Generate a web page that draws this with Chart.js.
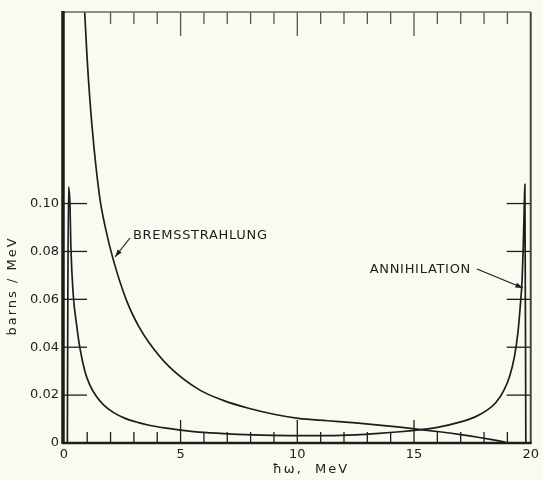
<!DOCTYPE html>
<html>
<head>
<meta charset="utf-8">
<script src="https://cdn.jsdelivr.net/npm/chart.js@4/dist/chart.umd.min.js"></script>
<style>
  html, body { margin: 0; padding: 0; background: #fafaf1; }
  #wrap { width: 543px; height: 480px; }
</style>
</head>
<body>
<div id="wrap"><canvas id="c" width="543" height="480"></canvas></div>
<script>
// Photon energy (MeV) and cross section (barns/MeV) for each process
const annihilationEnergy = [0.15, 0.17, 0.20, 0.26, 0.30, 0.40, 0.55, 0.68, 0.90, 1.10, 1.39, 1.70, 2.10, 2.60, 3.20, 3.70, 4.30, 5.00, 6.00, 7.20, 8.50, 10.0, 11.3, 12.5, 13.5, 14.4, 15.2, 16.0, 17.0, 17.6, 18.1, 18.5, 18.85, 19.1, 19.3, 19.45, 19.55, 19.63, 19.68, 19.72, 19.75, 19.79];
const annihilationValue  = [0.0, 0.060, 0.107, 0.100, 0.082, 0.062, 0.049, 0.040, 0.030, 0.0245, 0.0195, 0.0159, 0.0129, 0.0104, 0.0085, 0.0073, 0.0063, 0.0054, 0.0044, 0.0037, 0.0033, 0.0031, 0.0031, 0.0034, 0.0040, 0.0047, 0.0055, 0.0065, 0.0088, 0.0108, 0.0135, 0.0168, 0.0220, 0.028, 0.036, 0.046, 0.057, 0.068, 0.082, 0.098, 0.108, 0.0];

const bremsEnergy = [0.86, 1.00, 1.20, 1.53, 1.80, 2.10, 2.67, 3.20, 3.66, 4.51, 5.79, 6.80, 7.91, 9.00, 10.04, 11.3, 12.5, 13.5, 14.4, 15.2, 16.0, 17.0, 17.8, 18.4, 18.8, 19.0];
const bremsValue  = [0.186, 0.160, 0.133, 0.103, 0.089, 0.0771, 0.0599, 0.0488, 0.0418, 0.0319, 0.0223, 0.0179, 0.0145, 0.0120, 0.0103, 0.0093, 0.0084, 0.0075, 0.0066, 0.0057, 0.0048, 0.0035, 0.0023, 0.0013, 0.0006, 0.0];

// Axis ticks
const xTickValues = [0, 1, 2, 3, 4, 5, 6, 7, 8, 9, 10, 11, 12, 13, 14, 15, 16, 17, 18, 19, 20];
const yTickValues = [0, 0.02, 0.04, 0.06, 0.08, 0.10];
const topTickValues = [2, 3, 4, 5, 6, 7, 8, 9, 10, 11, 12, 13, 14, 15, 16, 17, 18, 19];

const INK = '#1d1d1d';
const FONT = '"DejaVu Sans", sans-serif';

function pts(xs, ys) { return xs.map((x, i) => ({ x: x, y: ys[i] })); }

function arrow(ctx, x0, y0, x1, y1) {
  ctx.beginPath();
  ctx.moveTo(x0, y0);
  ctx.lineTo(x1, y1);
  ctx.stroke();
  const a = Math.atan2(y1 - y0, x1 - x0);
  const L = 8, W = 0.32;
  ctx.beginPath();
  ctx.moveTo(x1, y1);
  ctx.lineTo(x1 - L * Math.cos(a - W), y1 - L * Math.sin(a - W));
  ctx.lineTo(x1 - L * Math.cos(a + W), y1 - L * Math.sin(a + W));
  ctx.closePath();
  ctx.fill();
}

const decorations = {
  id: 'decorations',
  beforeDraw(chart) {
    const ctx = chart.ctx;
    ctx.save();
    ctx.fillStyle = '#fafaf1';
    ctx.fillRect(0, 0, chart.width, chart.height);
    ctx.restore();
  },
  afterDatasetsDraw(chart) {
    const ctx = chart.ctx;
    const xs = chart.scales.x, ys = chart.scales.y;
    const a = chart.chartArea;
    ctx.save();
    ctx.strokeStyle = INK;
    ctx.fillStyle = INK;
    ctx.lineCap = 'butt';

    // inward tick marks along the bottom edge
    ctx.lineWidth = 1.3;
    xTickValues.forEach(v => {
      if (v <= 0 || v >= 20) return;
      const px = xs.getPixelForValue(v);
      const len = v % 5 === 0 ? 23 : 11;
      ctx.beginPath(); ctx.moveTo(px, a.bottom); ctx.lineTo(px, a.bottom - len); ctx.stroke();
    });
    // inward tick marks along the top edge
    ctx.strokeStyle = '#555';
    topTickValues.forEach(v => {
      const px = xs.getPixelForValue(v);
      const len = v % 5 === 0 ? 24 : 12;
      ctx.beginPath(); ctx.moveTo(px, a.top); ctx.lineTo(px, a.top + len); ctx.stroke();
    });
    // inward tick marks on left and right edges
    ctx.strokeStyle = INK;
    yTickValues.forEach(v => {
      if (v === 0) return;
      const py = ys.getPixelForValue(v);
      ctx.beginPath(); ctx.moveTo(a.left, py); ctx.lineTo(a.left + 25, py); ctx.stroke();
      ctx.beginPath(); ctx.moveTo(a.right, py); ctx.lineTo(a.right - 24, py); ctx.stroke();
    });

    // frame
    ctx.strokeStyle = '#666';
    ctx.lineWidth = 1.5;
    ctx.beginPath(); ctx.moveTo(a.left, a.top); ctx.lineTo(a.right, a.top); ctx.stroke();
    ctx.strokeStyle = '#444';
    ctx.lineWidth = 2;
    ctx.beginPath(); ctx.moveTo(a.right, a.top); ctx.lineTo(a.right, a.bottom); ctx.stroke();
    ctx.strokeStyle = INK;
    ctx.lineWidth = 3.5;
    ctx.beginPath(); ctx.moveTo(a.left + 1, a.top - 1); ctx.lineTo(a.left + 1, a.bottom + 1); ctx.stroke();
    ctx.lineWidth = 2.5;
    ctx.beginPath(); ctx.moveTo(a.left, a.bottom); ctx.lineTo(a.right + 1, a.bottom); ctx.stroke();

    // curve labels with leader arrows
    ctx.lineWidth = 1.2;
    ctx.font = '13px ' + FONT;
    ctx.textBaseline = 'middle';
    ctx.letterSpacing = '0.7px';
    ctx.textAlign = 'left';
    ctx.fillText('BREMSSTRAHLUNG', 133, 236);
    arrow(ctx, 130, 238, 115, 257);
    ctx.textAlign = 'right';
    ctx.fillText('ANNIHILATION', 471, 270);
    arrow(ctx, 477, 269, 523, 288);

    // axis titles
    ctx.letterSpacing = '2px';
    ctx.textAlign = 'center';
    ctx.fillText('\u0127\u03c9,  MeV', 311, 470);
    ctx.translate(13, 286);
    ctx.rotate(-Math.PI / 2);
    ctx.fillText('barns / MeV', 0, 0);
    ctx.restore();
  }
};

new Chart(document.getElementById('c'), {
  type: 'scatter',
  data: {
    datasets: [
      {
        label: 'Bremsstrahlung',
        data: pts(bremsEnergy, bremsValue),
        showLine: true,
        borderColor: INK,
        borderWidth: 1.7,
        pointRadius: 0,
        cubicInterpolationMode: 'monotone'
      },
      {
        label: 'Annihilation',
        data: pts(annihilationEnergy, annihilationValue),
        showLine: true,
        borderColor: INK,
        borderWidth: 1.7,
        pointRadius: 0,
        cubicInterpolationMode: 'monotone'
      }
    ]
  },
  options: {
    responsive: false,
    animation: false,
    events: [],
    layout: { padding: { top: 12, right: 10, left: 0, bottom: 0 } },
    plugins: { legend: { display: false }, tooltip: { enabled: false } },
    scales: {
      x: {
        type: 'linear',
        min: -0.08,
        max: 20,
        grid: { display: false, drawTicks: false },
        border: { display: false },
        afterBuildTicks: s => { s.ticks = xTickValues.map(v => ({ value: v })); },
        afterFit: s => { s.height = 37; },
        ticks: {
          autoSkip: false,
          maxRotation: 0,
          padding: 4,
          color: INK,
          font: { family: FONT, size: 13 },
          callback: v => (v % 5 === 0 ? String(v) : '')
        }
      },
      y: {
        min: 0,
        max: 0.18,
        grid: { display: false, drawTicks: false },
        border: { display: false },
        afterBuildTicks: s => { s.ticks = yTickValues.map(v => ({ value: v })); },
        afterFit: s => { s.width = 62; },
        ticks: {
          autoSkip: false,
          padding: 3,
          color: INK,
          font: { family: FONT, size: 13 },
          callback: v => (v === 0 ? '0' : v.toFixed(2))
        }
      }
    }
  },
  plugins: [decorations]
});
</script>
</body>
</html>
